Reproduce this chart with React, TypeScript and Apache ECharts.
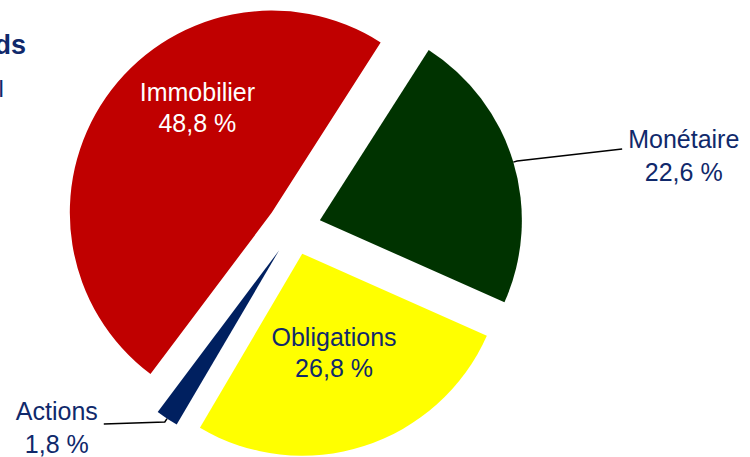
import React, { useEffect, useRef } from 'react';
import * as echarts from 'echarts';

const categories = ['Monétaire', 'Obligations', 'Actions', 'Immobilier'];
const shares = [22.6, 26.8, 1.8, 48.8];
const sliceColors = ['#003300', '#FFFF00', '#002060', '#C00000'];
const labelColors = ['#10296B', '#10296B', '#10296B', '#FFFFFF'];
const insideLabel = [false, true, false, true];
const titleFragments = ['ds', 'l'];

const FONT = '"Liberation Sans", Arial, sans-serif';

export default function App() {
  const ref = useRef<HTMLDivElement>(null);
  useEffect(() => {
    const chart = echarts.init(ref.current as HTMLDivElement, null, { renderer: 'svg' });
    const fmt = (v: number) => v.toFixed(1).replace('.', ',') + ' %';
    const lineLen2 = [105, 0, 61, 0];
    const data = categories.map((name, i) => ({
      name,
      value: shares[i],
      selected: true,
      itemStyle: { color: sliceColors[i], borderWidth: 0 },
      select: { itemStyle: { color: sliceColors[i], borderWidth: 0 } },
      label: {
        show: true,
        position: insideLabel[i] ? 'inside' : 'outside',
        formatter: (p: any) => `{t|${p.name}}\n{t|${fmt(p.value)}}`,
        distanceToLabelLine: 6,
        bleedMargin: 0,
        rich: {
          t: {
            color: labelColors[i],
            fontSize: 25,
            fontFamily: FONT,
            lineHeight: insideLabel[i] ? 31 : 33,
            align: 'center',
          },
        },
      },
      labelLine: {
        show: !insideLabel[i],
        length: 4,
        length2: lineLen2[i],
        smooth: false,
        lineStyle: { color: '#000000', width: 1.5 },
      },
    }));

    chart.setOption({
      animation: false,
      graphic: [
        {
          type: 'text',
          x: 26,
          y: 45,
          style: { text: titleFragments[0], fill: '#10296B', font: `bold 27px ${FONT}`, align: 'right', verticalAlign: 'middle' },
        },
        {
          type: 'text',
          x: -1.6,
          y: 88,
          style: { text: titleFragments[1], fill: '#10296B', font: `24px ${FONT}`, align: 'left', verticalAlign: 'middle' },
        },
      ],
      series: [
        {
          type: 'pie',
          center: [294, 228],
          radius: [0, 202],
          startAngle: 57.4,
          clockwise: true,
          selectedMode: 'multiple',
          selectedOffset: 27,
          silent: true,
          avoidLabelOverlap: false,
          emphasis: { disabled: true },
          labelLayout: (params: any) => {
            const i = params.dataIndex;
            const pts = params.labelLinePoints;
            if (i === 3) return { dx: 11, dy: -46 };
            if (i === 0) {
              if (pts && pts.length === 3) {
                return { dy: -5, labelLinePoints: [pts[0], pts[1], [pts[2][0], pts[2][1] - 12]] };
              }
              return { dy: -5 };
            }
            if (i === 2) {
              if (pts && pts.length === 3) {
                return { dy: 6, labelLinePoints: [pts[0], pts[1], [pts[2][0], pts[2][1] + 2]] };
              }
              return { dy: 6 };
            }
            return {};
          },
          data,
        },
      ],
    });
    return () => chart.dispose();
  }, []);
  return <div ref={ref} style={{ position: 'absolute', left: 0, top: 0, width: 750, height: 457 }} />;
}
